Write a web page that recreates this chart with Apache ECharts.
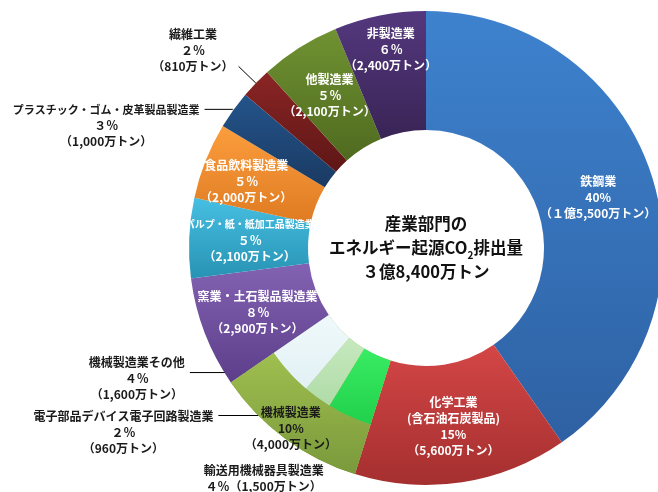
<!DOCTYPE html>
<html>
<head>
<meta charset="utf-8">
<script src="https://cdn.jsdelivr.net/npm/echarts@6/dist/echarts.min.js"></script>
<style>
  html, body { margin: 0; padding: 0; background: #fff; }
  #chart { width: 658px; height: 492px; }
</style>
</head>
<body>
<div id="chart"></div>
<script>
// 産業部門のエネルギー起源CO2排出量（万トン）
const sectorNames = ['鉄鋼業', '化学工業\n(含石油石炭製品)', '機械製造業', '窯業・土石製品製造業',
  'パルプ・紙・紙加工品製造業', '食品飲料製造業', 'プラスチック・ゴム・皮革製品製造業',
  '繊維工業', '他製造業', '非製造業'];
const sectorValues = [15500, 5600, 4060, 2900, 2100, 2000, 1000, 810, 2100, 2400];
const sectorPct = ['40%', '15%', '10%', '８％', '５％', '５％', '３％', '２％', '５％', '６％'];
const sectorAmount = ['１億5,500万トン', '5,600万トン', '4,000万トン', '2,900万トン', '2,100万トン',
  '2,000万トン', '1,000万トン', '810万トン', '2,100万トン', '2,400万トン'];

// 機械製造業の内訳
const machNames = ['輸送用機械器具製造業', '電子部品デバイス電子回路製造業', '機械製造業その他'];
const machValues = [1500, 960, 1600];
const machPct = ['４％', '２％', '４％'];
const machAmount = ['1,500万トン', '960万トン', '1,600万トン'];

const centerLines = ['産業部門の', 'エネルギー起源CO', '2', '排出量', '３億8,400万トン'];

const MACH = 2;
const CX = 426, CY = 248;
const R_IN = 118, R_MID = 185, R_OUT = 237;
const FONT = 'Noto Sans CJK JP';

const sectorColors = [
  ['#3e82ce', '#2e61a3'], ['#d44646', '#a52f2f'], ['#9fbf50', '#7a993b'], ['#8262b2', '#5d3e8a'],
  ['#46bfe2', '#2893b4'], ['#fb9d3d', '#df7b22'], ['#24548b', '#1a3a62'], ['#8b2525', '#5e1616'],
  ['#709232', '#4f6a1f'], ['#54387e', '#392455']
];
const machColors = [['#38ec63', '#22d04b'], ['#c6e9be', '#b0dba8'], ['#f0f9fb', '#e2f1f4']];

function grad(c) {
  return new echarts.graphic.LinearGradient(0, 0, 0, 1, [
    { offset: 0, color: c[0] }, { offset: 1, color: c[1] }
  ]);
}

function rich(lines, first) {
  return lines.map((l, i) => '{' + (i === 0 && first ? first : 't') + '|' + l + '}').join('\n');
}

const richStyle = {
  t: { align: 'center', fontSize: 12, lineHeight: 16, fontWeight: 'bold', fontFamily: FONT },
  s: { align: 'center', fontSize: 10, lineHeight: 16, fontWeight: 'bold', fontFamily: FONT },
  m: { align: 'center', fontSize: 11, lineHeight: 16, fontWeight: 'bold', fontFamily: FONT }
};
// smaller first line for the long names
const firstLineStyle = { 4: 's', 6: 'm' };

// label tweaks (layout only)
const mainLabelOpt = {
  0: { label: { padding: [8, 0, 0, 0] } },
  4: { label: { padding: [0, 0, 0, 8] } },
  5: { label: { padding: [0, 24, 0, 0] } },
  6: { label: { position: 'outside', color: '#1a1a1a', padding: [32, 0, 0, 0] }, labelLine: { length: 1, length2: 28 } },
  7: { label: { position: 'outside', color: '#1a1a1a', padding: [0, 0, 32, 0] }, labelLine: { length: 24, length2: 0 } },
  9: { label: { padding: [0, 0, 44, 0] } }
};
const machLabelOpt = [
  { label: { padding: [34, 0, 0, 0] }, labelLine: { length: 50, length2: 0 } },
  { label: { padding: [34, 0, 0, 0] }, labelLine: { length: 22, length2: 86 } },
  { label: { padding: [12, 0, 0, 0] }, labelLine: { length: 1, length2: 98 } }
];

const hidden = { color: 'transparent' };

const mainData = sectorNames.map((name, i) => {
  const item = { name: name, value: sectorValues[i], itemStyle: { color: grad(sectorColors[i]) } };
  if (i === MACH) item.label = { show: false };
  const o = mainLabelOpt[i];
  if (o) {
    item.label = o.label;
    if (o.labelLine) item.labelLine = Object.assign({ show: true }, o.labelLine);
  }
  return item;
});

const machData = [];
sectorNames.forEach((name, i) => {
  if (i === MACH) {
    machNames.forEach((mn, j) => {
      machData.push({
        name: mn,
        value: machValues[j],
        itemStyle: { color: grad(machColors[j]) },
        label: Object.assign({ show: true }, machLabelOpt[j].label),
        labelLine: Object.assign({ show: true }, machLabelOpt[j].labelLine)
      });
    });
  } else {
    machData.push({ name: name, value: sectorValues[i], itemStyle: hidden,
      label: { show: false }, labelLine: { show: false } });
  }
});

const bandData = sectorNames.map((name, i) => i === MACH
  ? { name: name, value: sectorValues[i], itemStyle: { color: grad(sectorColors[i]) },
      label: { show: true, padding: [16, 16, 0, 0] } }
  : { name: name, value: sectorValues[i], itemStyle: hidden, label: { show: false } });

const dom = document.getElementById('chart');
const myChart = echarts.init(dom, null, { renderer: 'canvas' });

const option = {
  animation: false,
  backgroundColor: '#fff',
  series: [
    {
      type: 'pie',
      center: [CX, CY],
      radius: [R_IN, R_OUT],
      startAngle: 90,
      avoidLabelOverlap: false,
      silent: true,
      itemStyle: { borderWidth: 0 },
      label: {
        position: 'inside',
        color: '#fff',
        fontFamily: FONT,
        formatter: (p) => {
          const i = p.dataIndex;
          const lines = sectorNames[i].split('\n').concat([sectorPct[i], '（' + sectorAmount[i] + '）']);
          return rich(lines, firstLineStyle[i]);
        },
        rich: richStyle
      },
      labelLine: { show: false, lineStyle: { color: '#000', width: 1 } },
      data: mainData
    },
    {
      type: 'pie',
      center: [CX, CY],
      radius: [R_IN, R_MID],
      startAngle: 90,
      avoidLabelOverlap: false,
      silent: true,
      itemStyle: { borderWidth: 0 },
      label: {
        position: 'outside',
        color: '#1a1a1a',
        fontFamily: FONT,
        formatter: (p) => {
          const j = machNames.indexOf(p.name);
          const lines = j === 0
            ? [machNames[j], machPct[j] + '（' + machAmount[j] + '）']
            : [machNames[j], machPct[j], '（' + machAmount[j] + '）'];
          return rich(lines);
        },
        rich: richStyle
      },
      labelLine: { lineStyle: { color: '#000', width: 1 }, smooth: false },
      data: machData
    },
    {
      type: 'pie',
      center: [CX, CY],
      radius: [R_MID, R_OUT],
      startAngle: 90,
      avoidLabelOverlap: false,
      silent: true,
      itemStyle: { borderWidth: 0 },
      label: {
        position: 'inside',
        color: '#1a1a1a',
        fontFamily: FONT,
        formatter: (p) => rich([sectorNames[p.dataIndex], sectorPct[p.dataIndex], '（' + sectorAmount[p.dataIndex] + '）']),
        rich: richStyle
      },
      labelLine: { show: false },
      data: bandData
    }
  ],
  graphic: [{
    type: 'text',
    x: CX,
    y: CY,
    style: {
      text: '{a|' + centerLines[0] + '}\n{a|' + centerLines[1] + '}{b|' + centerLines[2] + '}{a|' + centerLines[3] + '}\n{a|' + centerLines[4] + '}',
      align: 'center',
      verticalAlign: 'middle',
      rich: {
        a: { fontSize: 16.5, lineHeight: 24, fontWeight: 'bold', fontFamily: FONT, fill: '#111' },
        b: { fontSize: 10, lineHeight: 15, verticalAlign: 'bottom', fontWeight: 'bold', fontFamily: FONT, fill: '#111' }
      }
    }
  }]
};

myChart.setOption(option);
window.addEventListener('resize', myChart.resize);
</script>
</body>
</html>
